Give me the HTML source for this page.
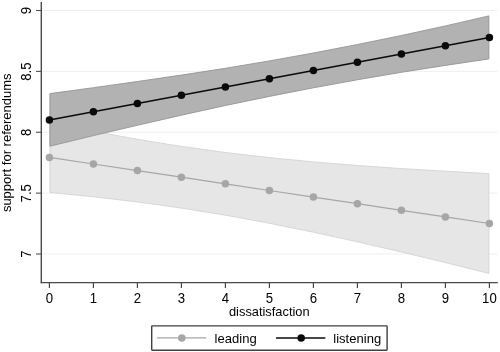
<!DOCTYPE html>
<html lang="en"><head><meta charset="utf-8"><title>support for referendums by dissatisfaction</title>
<style>html,body{margin:0;padding:0;background:#fff;}body{width:500px;height:352px;overflow:hidden;font-family:"Liberation Sans",sans-serif;}svg{display:block;}</style>
</head><body>
<svg width="500" height="352" viewBox="0 0 500 352" font-family="'Liberation Sans', sans-serif" font-size="12.9" fill="#000000">
<rect width="500" height="352" fill="#ffffff"/>
<line x1="41.5" x2="497.6" y1="254.00" y2="254.00" stroke="#efefef" stroke-width="1"/>
<line x1="41.5" x2="497.6" y1="193.12" y2="193.12" stroke="#efefef" stroke-width="1"/>
<line x1="41.5" x2="497.6" y1="132.25" y2="132.25" stroke="#efefef" stroke-width="1"/>
<line x1="41.5" x2="497.6" y1="71.38" y2="71.38" stroke="#efefef" stroke-width="1"/>
<line x1="41.5" x2="497.6" y1="10.50" y2="10.50" stroke="#efefef" stroke-width="1"/>
<polygon points="49.9,122.4 93.4,131.2 137.4,139.3 181.4,146.4 225.4,152.5 269.4,157.6 313.4,161.9 357.4,165.5 401.4,168.6 445.4,171.2 488.9,173.6 488.9,273.4 445.4,262.6 401.4,252.0 357.4,241.8 313.4,232.2 269.4,223.3 225.4,215.2 181.4,208.1 137.4,201.9 93.4,196.8 49.9,192.4" fill="#e6e6e6" stroke="#d4d4d4" stroke-width="0.9"/>
<polygon points="49.9,93.6 93.4,87.7 137.4,81.5 181.4,75.1 225.4,68.3 269.4,60.9 313.4,53.0 357.4,44.5 401.4,35.5 445.4,25.9 488.9,15.9 488.9,58.9 445.4,65.4 401.4,72.3 357.4,79.8 313.4,87.8 269.4,96.4 225.4,105.5 181.4,115.2 137.4,125.3 93.4,135.6 49.9,146.2" fill="#b2b2b2" stroke="#949494" stroke-width="0.9"/>
<polyline points="49.4,157.4 93.4,164.0 137.4,170.6 181.4,177.2 225.4,183.8 269.4,190.5 313.4,197.1 357.4,203.7 401.4,210.3 445.4,216.9 489.4,223.5" fill="none" stroke="#a6a6a6" stroke-width="1.25"/>
<circle cx="49.4" cy="157.4" r="3.75" fill="#a6a6a6"/><circle cx="93.4" cy="164.0" r="3.75" fill="#a6a6a6"/><circle cx="137.4" cy="170.6" r="3.75" fill="#a6a6a6"/><circle cx="181.4" cy="177.2" r="3.75" fill="#a6a6a6"/><circle cx="225.4" cy="183.8" r="3.75" fill="#a6a6a6"/><circle cx="269.4" cy="190.5" r="3.75" fill="#a6a6a6"/><circle cx="313.4" cy="197.1" r="3.75" fill="#a6a6a6"/><circle cx="357.4" cy="203.7" r="3.75" fill="#a6a6a6"/><circle cx="401.4" cy="210.3" r="3.75" fill="#a6a6a6"/><circle cx="445.4" cy="216.9" r="3.75" fill="#a6a6a6"/><circle cx="489.4" cy="223.5" r="3.75" fill="#a6a6a6"/>
<polyline points="49.4,119.9 93.4,111.7 137.4,103.4 181.4,95.2 225.4,86.9 269.4,78.7 313.4,70.4 357.4,62.2 401.4,53.9 445.4,45.7 489.4,37.4" fill="none" stroke="#0a0a0a" stroke-width="1.5"/>
<circle cx="49.4" cy="119.9" r="3.75" fill="#0a0a0a"/><circle cx="93.4" cy="111.7" r="3.75" fill="#0a0a0a"/><circle cx="137.4" cy="103.4" r="3.75" fill="#0a0a0a"/><circle cx="181.4" cy="95.2" r="3.75" fill="#0a0a0a"/><circle cx="225.4" cy="86.9" r="3.75" fill="#0a0a0a"/><circle cx="269.4" cy="78.7" r="3.75" fill="#0a0a0a"/><circle cx="313.4" cy="70.4" r="3.75" fill="#0a0a0a"/><circle cx="357.4" cy="62.2" r="3.75" fill="#0a0a0a"/><circle cx="401.4" cy="53.9" r="3.75" fill="#0a0a0a"/><circle cx="445.4" cy="45.7" r="3.75" fill="#0a0a0a"/><circle cx="489.4" cy="37.4" r="3.75" fill="#0a0a0a"/>
<line x1="41.3" x2="41.3" y1="2" y2="283.3" stroke="#4a4a4a" stroke-width="1.4"/>
<line x1="40.7" x2="497.8" y1="282.6" y2="282.6" stroke="#4a4a4a" stroke-width="1.4"/>
<line x1="49.4" x2="49.4" y1="282.5" y2="288" stroke="#4a4a4a" stroke-width="1.2"/>
<text transform="translate(49.4,302.9) scale(1,1.07)" text-anchor="middle" font-size="13.2">0</text>
<line x1="93.4" x2="93.4" y1="282.5" y2="288" stroke="#4a4a4a" stroke-width="1.2"/>
<text transform="translate(93.4,302.9) scale(1,1.07)" text-anchor="middle" font-size="13.2">1</text>
<line x1="137.4" x2="137.4" y1="282.5" y2="288" stroke="#4a4a4a" stroke-width="1.2"/>
<text transform="translate(137.4,302.9) scale(1,1.07)" text-anchor="middle" font-size="13.2">2</text>
<line x1="181.4" x2="181.4" y1="282.5" y2="288" stroke="#4a4a4a" stroke-width="1.2"/>
<text transform="translate(181.4,302.9) scale(1,1.07)" text-anchor="middle" font-size="13.2">3</text>
<line x1="225.4" x2="225.4" y1="282.5" y2="288" stroke="#4a4a4a" stroke-width="1.2"/>
<text transform="translate(225.4,302.9) scale(1,1.07)" text-anchor="middle" font-size="13.2">4</text>
<line x1="269.4" x2="269.4" y1="282.5" y2="288" stroke="#4a4a4a" stroke-width="1.2"/>
<text transform="translate(269.4,302.9) scale(1,1.07)" text-anchor="middle" font-size="13.2">5</text>
<line x1="313.4" x2="313.4" y1="282.5" y2="288" stroke="#4a4a4a" stroke-width="1.2"/>
<text transform="translate(313.4,302.9) scale(1,1.07)" text-anchor="middle" font-size="13.2">6</text>
<line x1="357.4" x2="357.4" y1="282.5" y2="288" stroke="#4a4a4a" stroke-width="1.2"/>
<text transform="translate(357.4,302.9) scale(1,1.07)" text-anchor="middle" font-size="13.2">7</text>
<line x1="401.4" x2="401.4" y1="282.5" y2="288" stroke="#4a4a4a" stroke-width="1.2"/>
<text transform="translate(401.4,302.9) scale(1,1.07)" text-anchor="middle" font-size="13.2">8</text>
<line x1="445.4" x2="445.4" y1="282.5" y2="288" stroke="#4a4a4a" stroke-width="1.2"/>
<text transform="translate(445.4,302.9) scale(1,1.07)" text-anchor="middle" font-size="13.2">9</text>
<line x1="489.4" x2="489.4" y1="282.5" y2="288" stroke="#4a4a4a" stroke-width="1.2"/>
<text transform="translate(489.4,302.9) scale(1,1.07)" text-anchor="middle" font-size="13.2">10</text>
<line x1="36" x2="41.3" y1="254.00" y2="254.00" stroke="#4a4a4a" stroke-width="1.05"/>
<text transform="translate(30.7,254.2) rotate(-90) scale(1,1.09)" text-anchor="middle" font-size="13.1">7</text>
<line x1="36" x2="41.3" y1="193.12" y2="193.12" stroke="#4a4a4a" stroke-width="1.05"/>
<text transform="translate(30.7,193.3) rotate(-90) scale(1,1.09)" text-anchor="middle" font-size="13.1">7.5</text>
<line x1="36" x2="41.3" y1="132.25" y2="132.25" stroke="#4a4a4a" stroke-width="1.05"/>
<text transform="translate(30.7,132.4) rotate(-90) scale(1,1.09)" text-anchor="middle" font-size="13.1">8</text>
<line x1="36" x2="41.3" y1="71.38" y2="71.38" stroke="#4a4a4a" stroke-width="1.05"/>
<text transform="translate(30.7,71.6) rotate(-90) scale(1,1.09)" text-anchor="middle" font-size="13.1">8.5</text>
<line x1="36" x2="41.3" y1="10.50" y2="10.50" stroke="#4a4a4a" stroke-width="1.05"/>
<text transform="translate(30.7,10.7) rotate(-90) scale(1,1.09)" text-anchor="middle" font-size="13.1">9</text>
<text transform="translate(11.3,142.8) rotate(-90) scale(1,1.04)" text-anchor="middle" font-size="13">support for referendums</text>
<text transform="translate(269.3,315.6) scale(1,1.02)" text-anchor="middle" font-size="12.85">dissatisfaction</text>
<rect x="151.7" y="325.9" width="235.4" height="24.3" rx="0.6" fill="#fff" stroke="#404040" stroke-width="1.4"/>
<line x1="157" x2="206.2" y1="337.9" y2="337.9" stroke="#a6a6a6" stroke-width="1.25"/><circle cx="181.8" cy="337.9" r="3.75" fill="#a6a6a6"/>
<text transform="translate(214.6,342.5) scale(1,1.01)" font-size="13.05">leading</text>
<line x1="276" x2="325.4" y1="337.9" y2="337.9" stroke="#0a0a0a" stroke-width="1.5"/><circle cx="301.2" cy="337.9" r="3.75" fill="#0a0a0a"/>
<text transform="translate(333.3,342.5) scale(1,1.01)" font-size="13.05">listening</text>
</svg>
</body></html>
